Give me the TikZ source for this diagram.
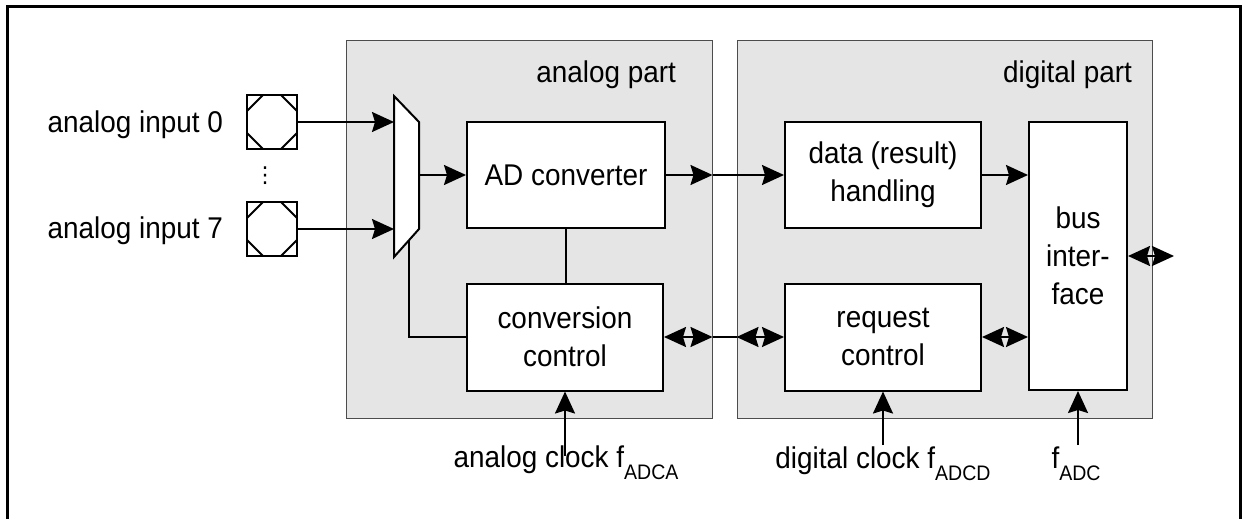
\documentclass[tikz,border=0pt]{standalone}
\usepackage{fontspec}
\setmainfont{Liberation Sans}[FakeStretch=0.93]
\newfontfamily\symfont{DejaVu Sans}
\usetikzlibrary{arrows.meta}

% lowered subscript as in the data sheet figure
\newcommand{\lowsub}[1]{\raisebox{-6pt}{\fontsize{10.5}{10.5}\selectfont #1}}

\tikzset{
  panel/.style={draw=black!70, fill=black!10, line width=0.5pt, inner sep=0pt},
  block/.style={draw, fill=white, line width=1pt, align=center, inner sep=0pt},
  pad/.style={draw, line width=1pt, minimum width=25pt, minimum height=27pt, inner sep=0pt,
    path picture={
      \draw[line width=1pt]
        ([yshift=-8pt]path picture bounding box.north west) -- ([xshift=8pt]path picture bounding box.north west)
        ([xshift=-8pt]path picture bounding box.north east) -- ([yshift=-8pt]path picture bounding box.north east)
        ([yshift=8pt]path picture bounding box.south east) -- ([xshift=-8pt]path picture bounding box.south east)
        ([xshift=8pt]path picture bounding box.south west) -- ([yshift=8pt]path picture bounding box.south west);}},
  arr/.style={line width=1pt, -{Stealth[length=11pt,width=10pt,inset=1.5pt]}},
  darr/.style={line width=1pt, {Stealth[length=11pt,width=10pt,inset=1.5pt]}-{Stealth[length=11pt,width=10pt,inset=1.5pt]}},
  wire/.style={line width=1pt}
}

\begin{document}
\begin{tikzpicture}[x=0.5pt,y=-0.5pt, every node/.append style={font=\fontsize{15}{19}\selectfont}]
    \useasboundingbox (0,0) rectangle (1242,519);

    % Outer frame
    \draw[line width=1.5pt] (7,519) -- (7,7) -- (1240,7) -- (1240,519);

    % Grey panels
    \node[panel, minimum width=183pt, minimum height=188.5pt] (analog) at (529,229.5) {};
    \node[panel, minimum width=207.5pt, minimum height=188.5pt] (digital) at (944.5,229.5) {};
    \node[anchor=base east] (alabel) at (683,83) {analog part};
    \node[anchor=base east] (dlabel) at (1139,83) {digital part};

    % Blocks
    \node[block, minimum width=99pt, minimum height=53pt] (adc) at (566,175) {AD converter};
    \node[block, minimum width=98pt, minimum height=53.5pt] (cc) at (565,337) {conversion\\control};
    \node[block, minimum width=98pt, minimum height=53pt] (dh) at (883,175) {data (result)\\handling};
    \node[block, minimum width=98pt, minimum height=53.5pt] (rc) at (883,337) {request\\control};
    \node[block, minimum width=49pt, minimum height=134pt] (bus) at (1078,256) {bus\\inter-\\face};

    % Multiplexer
    \draw[wire, fill=white] (394,96) -- (419,122) -- (419,229) -- (394,257) -- cycle;
    \coordinate (mux-in0) at (394,122);
    \coordinate (mux-in7) at (394,229);
    \coordinate (mux-out) at (419,175);
    \coordinate (mux-sel) at (409,241);

    % Input pads
    \node[pad] (pad0) at (272,122) {};
    \node[pad] (pad7) at (272,229) {};
    \node[anchor=base east] (in0) at (230,133) {analog input 0};
    \node[anchor=base east] (in7) at (230,238) {analog input 7};
    \node[font=\fontsize{11}{11}\selectfont] (dots) at (265,176) {\symfont ⋮};

    \draw[arr] (pad0) -- (mux-in0);
    \draw[arr] (pad7) -- (mux-in7);
    \draw[arr] (mux-out) -- (adc);
    \draw[wire] (mux-sel) |- (cc);
    \draw[wire] (adc.south) -- (adc.south |- cc.north);

    % Analog to digital
    \draw[arr] (adc.east) -- (adc.east -| analog.east);
    \draw[wire] (adc.east -| analog.east) -- (adc.east -| digital.west);
    \draw[arr] (adc.east -| digital.west) -- (dh.west);
    \draw[darr] (cc.east) -- (cc.east -| analog.east);
    \draw[wire] (cc.east -| analog.east) -- (cc.east -| digital.west);
    \draw[darr] (cc.east -| digital.west) -- (rc.west);

    % Bus side
    \draw[arr] (dh.east) -- (dh.east -| bus.west);
    \draw[darr] (rc.east) -- (rc.east -| bus.west);
    \coordinate (ext) at (1174,256);
    \draw[darr] (bus.east) -- (ext);

    % Clocks
    \node[anchor=base] (aclk) at (566,467) {analog clock f\lowsub{ADCA}};
    \node[anchor=base] (dclk) at (883,468) {digital clock f\lowsub{ADCD}};
    \node[anchor=base] (bclk) at (1076,468) {f\lowsub{ADC}};
    \coordinate (aclk-in) at (565,456);
    \coordinate (dclk-in) at (883,445);
    \coordinate (bclk-in) at (1078,445);
    \draw[arr] (aclk-in) -- (cc.south);
    \draw[arr] (dclk-in) -- (rc.south);
    \draw[arr] (bclk-in) -- (bus.south);

\end{tikzpicture}
\end{document}
